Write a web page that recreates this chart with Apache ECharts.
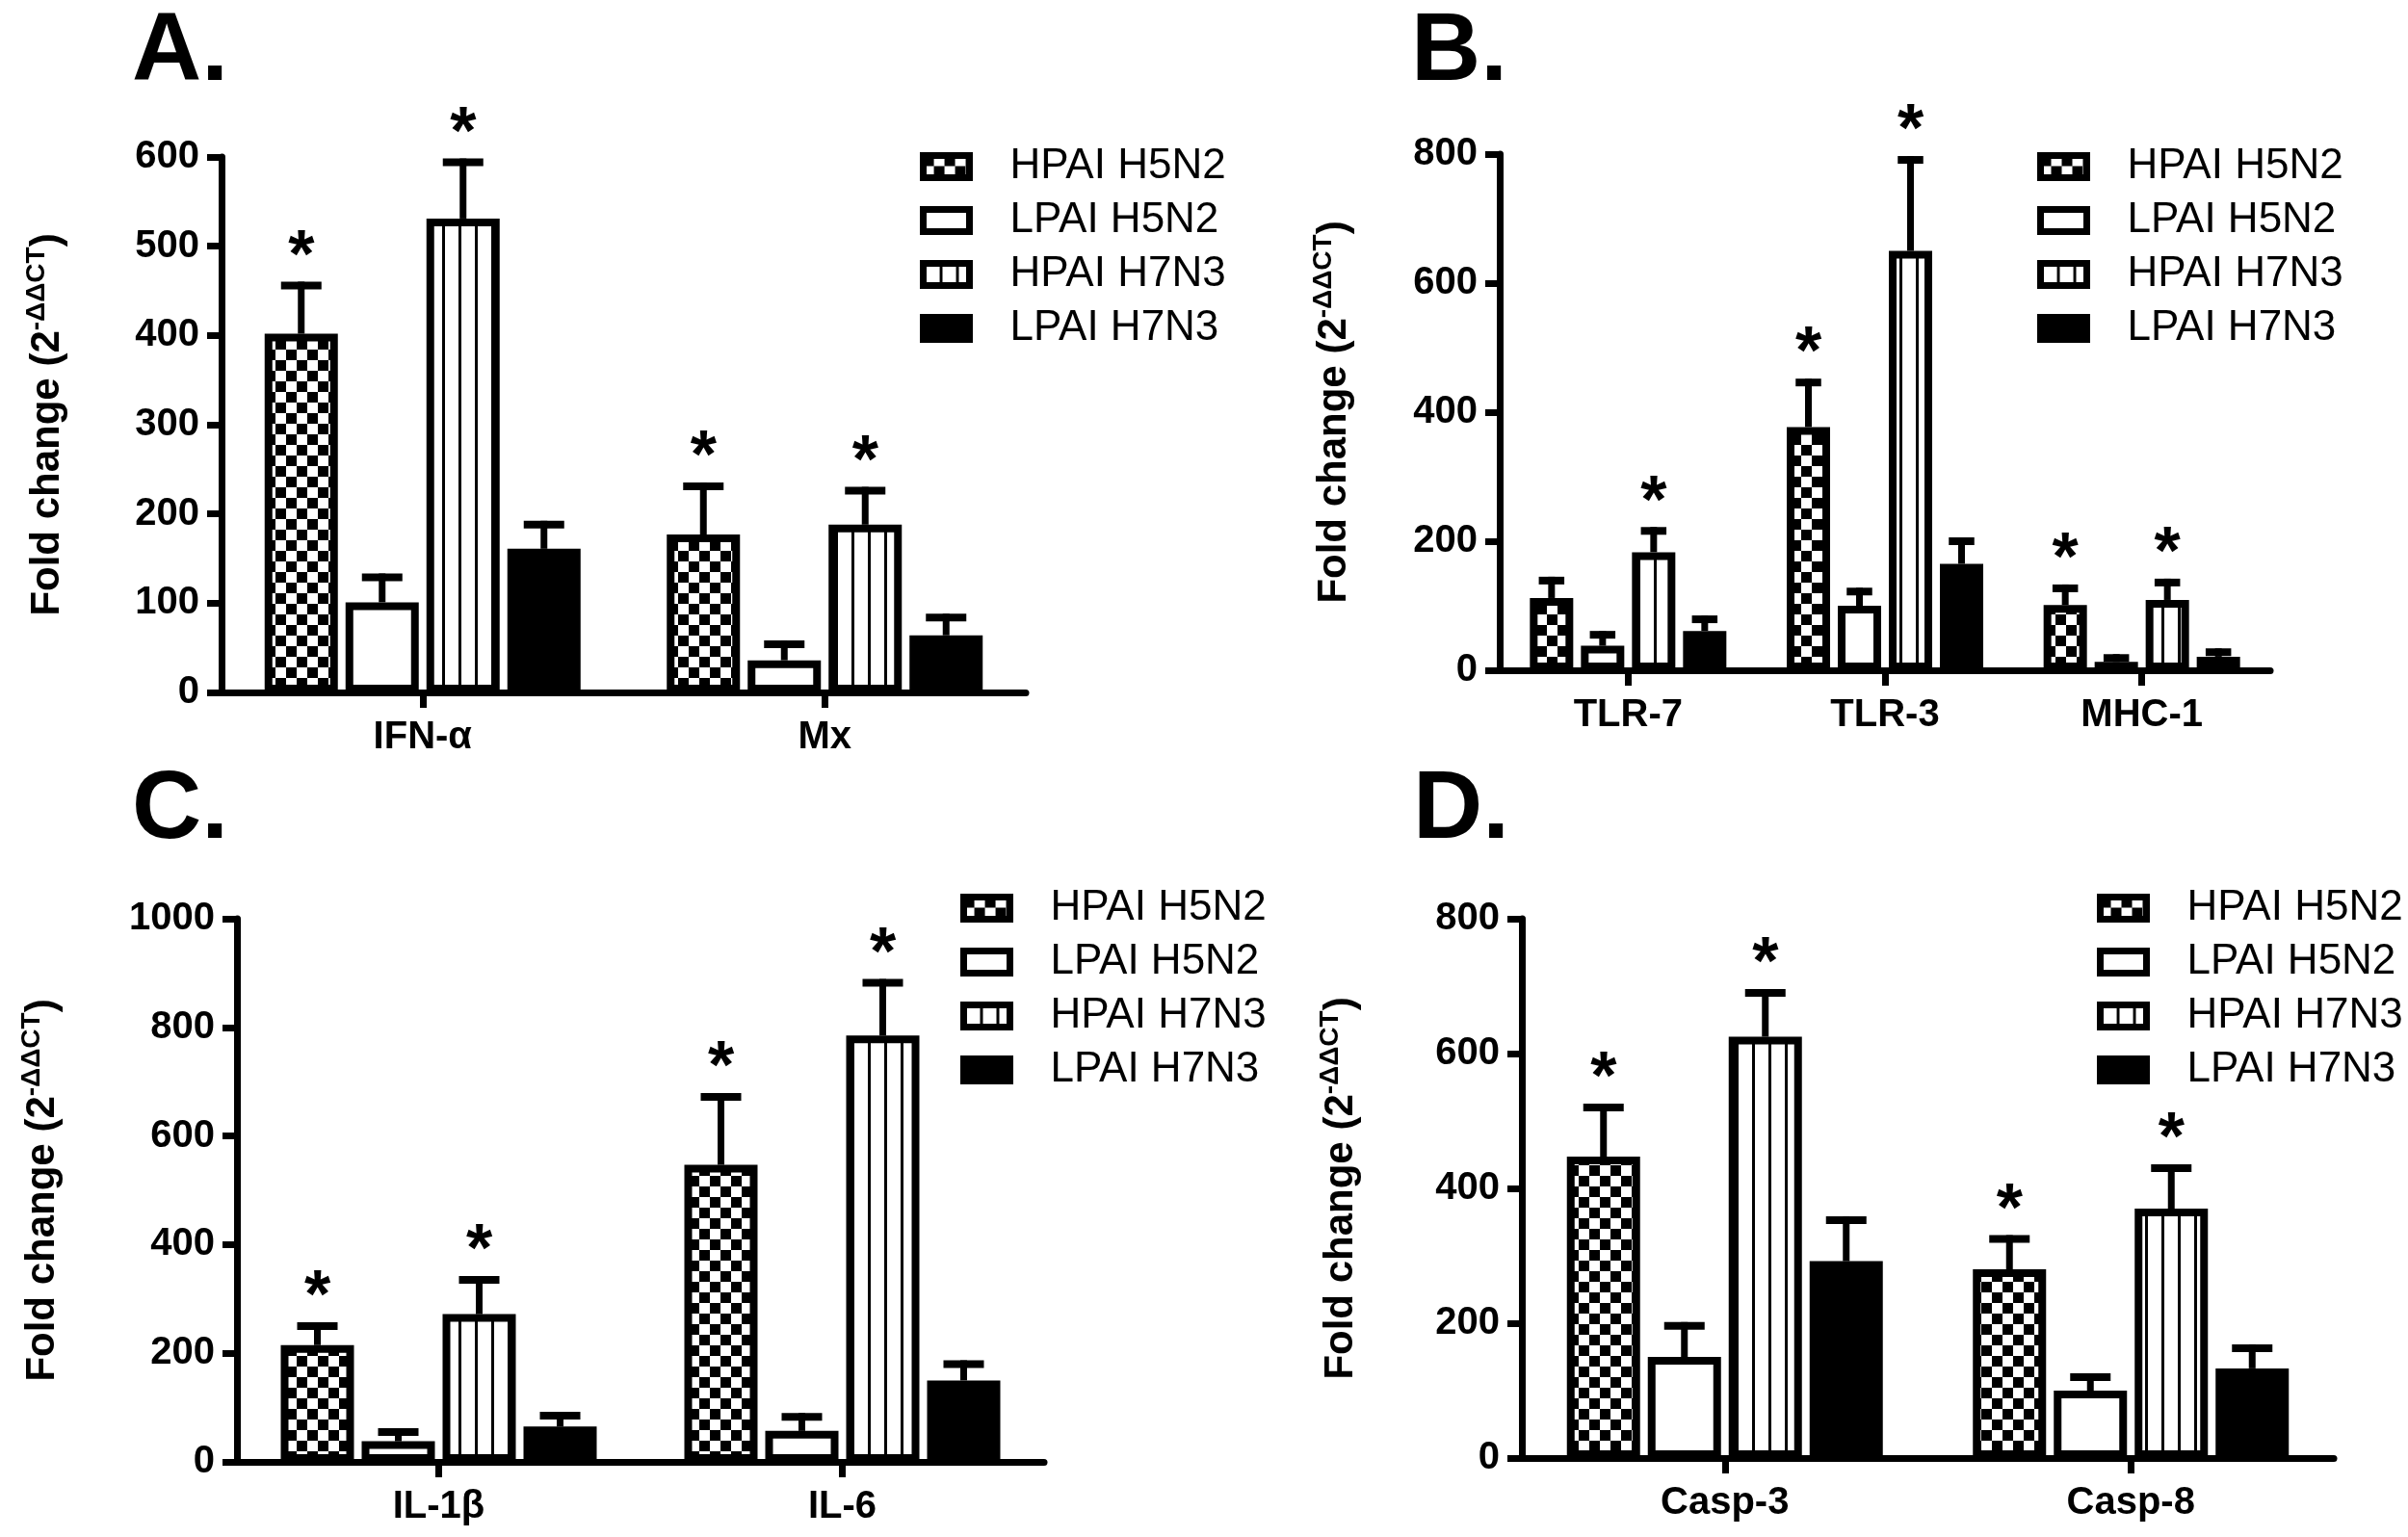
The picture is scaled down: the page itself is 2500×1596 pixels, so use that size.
<!DOCTYPE html>
<html><head><meta charset="utf-8">
<script src="https://cdn.jsdelivr.net/npm/echarts@6/dist/echarts.min.js"></script>
<style>html,body{margin:0;padding:0;background:#fff}#c{width:2500px;height:1596px}</style>
</head><body><div id="c"></div>
<script>
// ---------------- data ----------------
const seriesNames = ['HPAI H5N2', 'LPAI H5N2', 'HPAI H7N3', 'LPAI H7N3'];

const catsA = ['IFN-α', 'Mx'];
const meanA = [[402, 177], [101, 36], [531, 188], [161, 64]];
const errA  = [[54, 54], [28, 18], [63, 38], [27, 20]];
const starA = [[1, 1], [0, 0], [1, 1], [0, 0]];
const ticksA = [0, 100, 200, 300, 400, 500, 600];

const catsB = ['TLR-7', 'TLR-3', 'MHC-1'];
const meanB = [[112, 377, 101], [38, 100, 13], [183, 650, 109], [61, 165, 21]];
const errB  = [[27, 69, 26], [17, 22, 6], [33, 141, 27], [18, 35, 7]];
const starB = [[0, 1, 1], [0, 0, 0], [1, 1, 1], [0, 0, 0]];
const ticksB = [0, 200, 400, 600, 800];

const catsC = ['IL-1β', 'IL-6'];
const meanC = [[215, 547], [38, 57], [272, 785], [65, 150]];
const errC  = [[35, 125], [17, 26], [63, 97], [20, 30]];
const starC = [[1, 1], [0, 0], [1, 1], [0, 0]];
const ticksC = [0, 200, 400, 600, 800, 1000];

const catsD = ['Casp-3', 'Casp-8'];
const meanD = [[447, 280], [150, 100], [625, 370], [292, 133]];
const errD  = [[73, 45], [46, 20], [65, 60], [61, 30]];
const starD = [[1, 1], [0, 0], [1, 1], [0, 0]];
const ticksD = [0, 200, 400, 600, 800];

const panelLetters = ['A.', 'B.', 'C.', 'D.'];
const yName = '{a|Fold change (2}{b|-ΔΔCT}{a|)}';

// ---------------- layout / style ----------------
const FONT = '"Liberation Sans", Arial, Helvetica, sans-serif';
const panels = [
  {cats: catsA, mean: meanA, err: errA, star: starA, ticks: ticksA,
   grid: {left: 230, top: 163, width: 835, height: 556}, bw: 76, nameGap: 156,
   legend: {left: 950, top: 146}, title: {left: 132, top: 0}},
  {cats: catsB, mean: meanB, err: errB, star: starB, ticks: ticksB,
   grid: {left: 1557, top: 160, width: 800, height: 536}, bw: 45, nameGap: 147,
   legend: {left: 2110, top: 146}, title: {left: 1460, top: 0}},
  {cats: catsC, mean: meanC, err: errC, star: starC, ticks: ticksC,
   grid: {left: 246, top: 954, width: 838, height: 564}, bw: 76, nameGap: 177,
   legend: {left: 992, top: 916}, title: {left: 132, top: 787}},
  {cats: catsD, mean: meanD, err: errD, star: starD, ticks: ticksD,
   grid: {left: 1580, top: 954, width: 843, height: 560}, bw: 76, nameGap: 163,
   legend: {left: 2172, top: 916}, title: {left: 1462, top: 787}}
];

function checker() {
  const c = document.createElement('canvas'); c.width = 22; c.height = 22;
  const g = c.getContext('2d');
  g.fillStyle = '#fff'; g.fillRect(0, 0, 22, 22);
  g.fillStyle = '#000'; g.fillRect(0, 0, 11, 11); g.fillRect(11, 11, 11, 11);
  return c;
}
function stripes() {
  const c = document.createElement('canvas'); c.width = 17; c.height = 4;
  const g = c.getContext('2d');
  g.fillStyle = '#fff'; g.fillRect(0, 0, 17, 4);
  g.fillStyle = '#000'; g.fillRect(0, 0, 3, 4);
  return c;
}
const fills = [
  {image: checker(), repeat: 'repeat'},
  '#ffffff',
  {image: stripes(), repeat: 'repeat'},
  '#000000'
];
const BORDER = 8, GAP = 8;

function errRenderer(bw) {
  return function (params, api) {
    const ci = api.value(0), k = api.value(1), m = api.value(2), e = api.value(3), s = api.value(4);
    const p0 = api.coord([ci, m]);
    const p1 = api.coord([ci, m + e]);
    const x = p0[0] + (k - 1.5) * (bw + GAP);
    const half = (bw + BORDER) / 4;
    const children = [
      {type: 'line', shape: {x1: x, y1: p0[1], x2: x, y2: p1[1] - 4}, style: {stroke: '#000', lineWidth: 7}},
      {type: 'line', shape: {x1: x - half, y1: p1[1], x2: x + half, y2: p1[1]}, style: {stroke: '#000', lineWidth: 8}}
    ];
    if (s) {
      children.push({type: 'text', x: x, y: p1[1] - 28,
        style: {text: '*', fontSize: 70, fontWeight: 'bold', fontFamily: FONT, fill: '#000',
                align: 'center', verticalAlign: 'middle'}});
    }
    return {type: 'group', children: children};
  };
}

const option = {
  backgroundColor: '#fff',
  animation: false,
  title: [], grid: [], xAxis: [], yAxis: [], legend: [], series: []
};

panels.forEach((p, i) => {
  option.title.push({text: panelLetters[i], left: p.title.left, top: p.title.top,
    textStyle: {fontSize: 100, fontWeight: 'bold', fontFamily: FONT, color: '#000'}});
  option.grid.push(Object.assign({containLabel: false}, p.grid));
  option.xAxis.push({
    type: 'category', gridIndex: i, data: p.cats,
    axisLine: {show: true, lineStyle: {color: '#000', width: 7}},
    axisTick: {show: true, alignWithLabel: true, length: 16, lineStyle: {color: '#000', width: 7}},
    axisLabel: {fontSize: 40, fontWeight: 'bold', fontFamily: FONT, color: '#000', margin: 27},
    splitLine: {show: false}
  });
  option.yAxis.push({
    type: 'value', gridIndex: i, min: 0, max: p.ticks[p.ticks.length - 1],
    interval: p.ticks[1] - p.ticks[0],
    name: yName, nameLocation: 'middle', nameRotate: 90, nameGap: p.nameGap,
    nameTextStyle: {color: '#000', rich: {
      a: {fontSize: 42, fontWeight: 'bold', fontFamily: FONT, color: '#000', lineHeight: 50},
      b: {fontSize: 28, fontWeight: 'bold', fontFamily: FONT, color: '#000', lineHeight: 50, verticalAlign: 'top'}
    }},
    axisLine: {show: true, lineStyle: {color: '#000', width: 7}},
    axisTick: {show: true, length: 15, lineStyle: {color: '#000', width: 7}},
    axisLabel: {fontSize: 40, fontWeight: 'bold', fontFamily: FONT, color: '#000', margin: 23,
                formatter: v => String(v)},
    splitLine: {show: false}
  });
  option.legend.push({
    data: seriesNames, orient: 'vertical', left: p.legend.left, top: p.legend.top,
    icon: 'rect', itemWidth: 48, itemHeight: 23, itemGap: 12,
    selectedMode: false,
    itemStyle: {borderColor: '#000', borderWidth: 7},
    textStyle: {fontSize: 44, fontFamily: FONT, color: '#000', padding: [0, 0, 0, 37]}
  });
  seriesNames.forEach((nm, k) => {
    option.series.push({
      type: 'bar', name: nm, xAxisIndex: i, yAxisIndex: i,
      data: p.mean[k], barWidth: p.bw, barGap: (GAP / p.bw * 100) + '%',
      itemStyle: {color: fills[k], borderColor: '#000', borderWidth: BORDER},
      emphasis: {disabled: true}, z: 2
    });
  });
  const rows = [];
  seriesNames.forEach((nm, k) => {
    p.cats.forEach((c, ci) => rows.push([ci, k, p.mean[k][ci], p.err[k][ci], p.star[k][ci]]));
  });
  option.series.push({
    type: 'custom', name: 'err' + i, xAxisIndex: i, yAxisIndex: i, z: 5,
    renderItem: errRenderer(p.bw), data: rows, encode: {x: 0, y: 2},
    silent: true
  });
});

const chart = echarts.init(document.getElementById('c'), null, {renderer: 'canvas'});
chart.setOption(option);
</script>
</body></html>
